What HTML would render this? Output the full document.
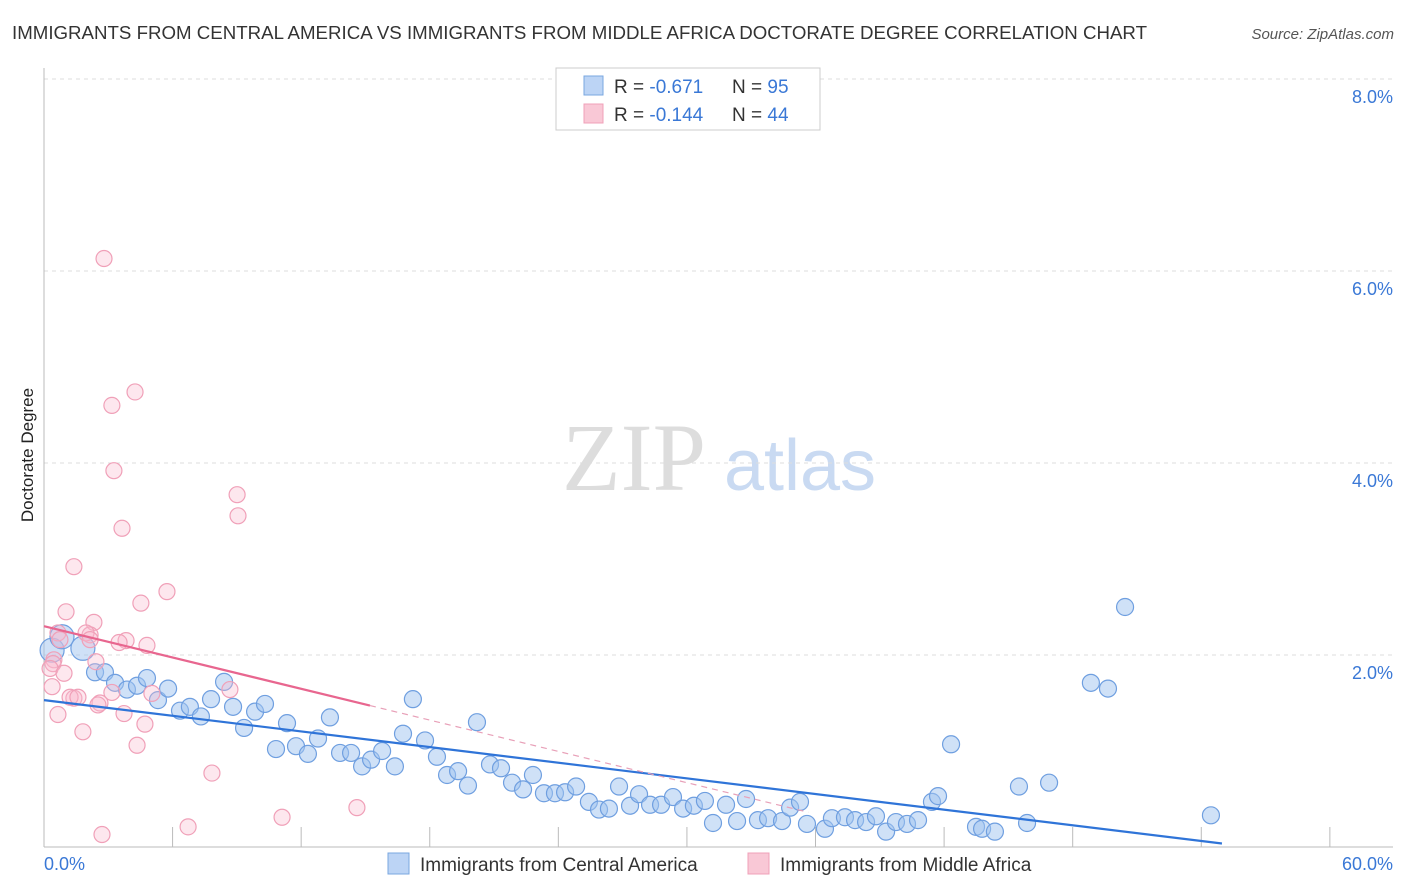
<!DOCTYPE html>
<html><head><meta charset="utf-8"><style>
body{margin:0;background:#fff;font-family:"Liberation Sans",sans-serif;}
svg{display:block}
</style></head><body>
<svg id="chart" width="1406" height="892" viewBox="0 0 1406 892">
<text x="12" y="39" font-size="18" fill="#333" textLength="1135" lengthAdjust="spacingAndGlyphs">IMMIGRANTS FROM CENTRAL AMERICA VS IMMIGRANTS FROM MIDDLE AFRICA DOCTORATE DEGREE CORRELATION CHART</text>
<text x="1394" y="39" font-size="15" fill="#555" font-style="italic" text-anchor="end">Source: ZipAtlas.com</text>
<g>
<text x="634" y="490" font-size="96" fill="#ddd" font-family="Liberation Serif,serif" text-anchor="middle">ZIP</text>
<text x="800" y="490" font-size="72" fill="#c9daf2" text-anchor="middle">atlas</text>
</g>
<text transform="translate(33,455) rotate(-90)" font-size="17" fill="#222" text-anchor="middle">Doctorate Degree</text>
<g id="grid"></g><g id="axes"></g><g id="pts"></g><g id="lines"></g>
<g>
<rect x="556" y="68" width="264" height="62" fill="#fff" stroke="#ccc"/>
<rect x="584" y="76" width="19" height="19" fill="#bcd4f5" stroke="#7aa7e0"/>
<rect x="584" y="104" width="19" height="19" fill="#f9c8d6" stroke="#f0a0b8"/>
<text x="614" y="93" font-size="19" fill="#333">R = <tspan fill="#3a78d6">-0.671</tspan></text>
<text x="732" y="93" font-size="19" fill="#333">N = <tspan fill="#3a78d6">95</tspan></text>
<text x="614" y="121" font-size="19" fill="#333">R = <tspan fill="#3a78d6">-0.144</tspan></text>
<text x="732" y="121" font-size="19" fill="#333">N = <tspan fill="#3a78d6">44</tspan></text>
</g>
<g>
<rect x="388" y="853" width="21" height="21" fill="#bcd4f5" stroke="#7aa7e0"/>
<text x="420" y="871" font-size="19" fill="#333">Immigrants from Central America</text>
<rect x="748" y="853" width="21" height="21" fill="#f9c8d6" stroke="#f0a0b8"/>
<text x="780" y="871" font-size="19" fill="#333">Immigrants from Middle Africa</text>
</g>
<text x="44" y="870" font-size="18" fill="#3a78d6">0.0%</text>
<text x="1393" y="870" font-size="18" fill="#3a78d6" text-anchor="end">60.0%</text>
</svg>
<script>
const yTicks=[2,4,6,8];
const xTicks=[0,5.72,11.44,17.16,22.88,28.6,34.32,40.04,45.76,51.48,57.2];
const blueX=[0.36,0.80,1.73,2.27,2.71,3.16,3.69,4.14,4.58,5.07,5.52,6.05,6.49,6.98,7.43,8.01,8.41,8.90,9.39,9.83,10.32,10.81,11.21,11.74,12.19,12.72,13.17,13.66,14.15,14.55,15.04,15.61,15.97,16.41,16.95,17.48,17.93,18.42,18.86,19.26,19.84,20.33,20.82,21.31,21.75,22.24,22.73,23.18,23.67,24.24,24.69,25.13,25.58,26.07,26.47,26.96,27.45,27.98,28.43,28.91,29.40,29.76,30.34,30.83,31.23,31.76,32.21,32.83,33.19,33.63,33.94,34.74,35.05,35.63,36.08,36.57,37.01,37.46,37.90,38.39,38.88,39.50,39.77,40.35,41.46,41.73,42.30,43.37,43.73,44.71,46.57,47.33,48.09,51.91];
const blueY=[2.05,2.19,2.07,1.82,1.82,1.71,1.64,1.68,1.76,1.53,1.65,1.42,1.46,1.36,1.54,1.72,1.46,1.24,1.41,1.49,1.02,1.29,1.05,0.97,1.13,1.35,0.98,0.98,0.84,0.91,1.00,0.84,1.18,1.54,1.11,0.94,0.75,0.79,0.64,1.30,0.86,0.82,0.67,0.60,0.75,0.56,0.56,0.57,0.63,0.47,0.39,0.40,0.63,0.43,0.55,0.44,0.44,0.52,0.40,0.43,0.48,0.25,0.44,0.27,0.50,0.28,0.30,0.27,0.41,0.47,0.24,0.19,0.30,0.31,0.28,0.26,0.32,0.16,0.26,0.24,0.28,0.47,0.53,1.07,0.21,0.19,0.16,0.63,0.25,0.67,1.71,1.65,2.50,0.33];
const pinkX=[2.67,3.02,4.05,3.11,3.47,8.59,8.63,1.33,5.47,4.31,0.98,0.62,0.44,0.40,0.27,0.89,0.36,0.62,1.73,1.33,1.16,1.51,2.22,2.05,1.87,2.31,2.49,3.02,3.65,3.34,4.58,3.56,4.49,4.14,4.80,8.27,7.47,2.58,6.41,10.59,13.92,0.71,2.05,2.40];
const pinkY=[6.13,4.60,4.74,3.92,3.32,3.67,3.45,2.92,2.66,2.54,2.45,2.23,1.95,1.91,1.86,1.81,1.67,1.38,1.20,1.55,1.56,1.56,2.34,2.21,2.23,1.93,1.50,1.61,2.15,2.13,2.10,1.39,1.28,1.06,1.60,1.64,0.77,0.13,0.21,0.31,0.41,2.16,2.16,1.48];
const blueTrend=[1.53,-0.0285];
const pinkTrend=[2.30,-0.057];
const X=v=>44+v*22.48, Y=v=>847-v*96;
const NS='http://www.w3.org/2000/svg';
function mk(p,tag,a){const e=document.createElementNS(NS,tag);for(const k in a)e.setAttribute(k,a[k]);p.appendChild(e);return e;}
const grid=document.getElementById('grid'),axes=document.getElementById('axes'),pts=document.getElementById('pts'),lines=document.getElementById('lines');
yTicks.forEach(t=>{
 const l=mk(grid,'line',{x1:44,x2:1393,y1:Y(t),y2:Y(t),stroke:'#ddd','stroke-dasharray':'4,4'});
 
 
 const tx=mk(axes,'text',{x:1393,y:Y(t)+24,'font-size':18,fill:'#3a78d6','text-anchor':'end'});
 tx.textContent=t.toFixed(1)+'%';
 
 
});
const ya=mk(axes,'line',{x1:44,x2:44,y1:68,y2:847,stroke:'#bbb'});


const xa=mk(axes,'line',{x1:44,x2:1393,y1:847,y2:847,stroke:'#bbb'});


xTicks.forEach(t=>{
 const l=mk(axes,'line',{x1:X(t),x2:X(t),y1:827,y2:847,stroke:'#bbb'});
 
 
});
blueX.forEach((x,i)=>{
 const big=i<3;
 const c=mk(pts,'circle',{cx:X(x),cy:Y(blueY[i]),r:big?12:8.5,fill:'rgba(160,195,240,0.5)',stroke:'#6f9fe0','stroke-width':1.2});
 
 
});
pinkX.forEach((x,i)=>{
 const c=mk(pts,'circle',{cx:X(x),cy:Y(pinkY[i]),r:8,fill:'rgba(248,185,205,0.35)',stroke:'#f0a0b8','stroke-width':1.2});
 
 
});
const bEnd=52.4;
const bl=mk(lines,'line',{x1:X(0),y1:Y(blueTrend[0]),x2:X(bEnd),y2:Y(blueTrend[0]+blueTrend[1]*bEnd),stroke:'#2f74d8','stroke-width':2.2});


const pS=14.5,pD=34;
const pl=mk(lines,'line',{x1:X(0),y1:Y(pinkTrend[0]),x2:X(pS),y2:Y(pinkTrend[0]+pinkTrend[1]*pS),stroke:'#e8668f','stroke-width':2.2});


const pd=mk(lines,'line',{x1:X(pS),y1:Y(pinkTrend[0]+pinkTrend[1]*pS),x2:X(pD),y2:Y(pinkTrend[0]+pinkTrend[1]*pD),stroke:'#e8a0b8','stroke-width':1.2,'stroke-dasharray':'6,5'});


</script>
</body></html>
